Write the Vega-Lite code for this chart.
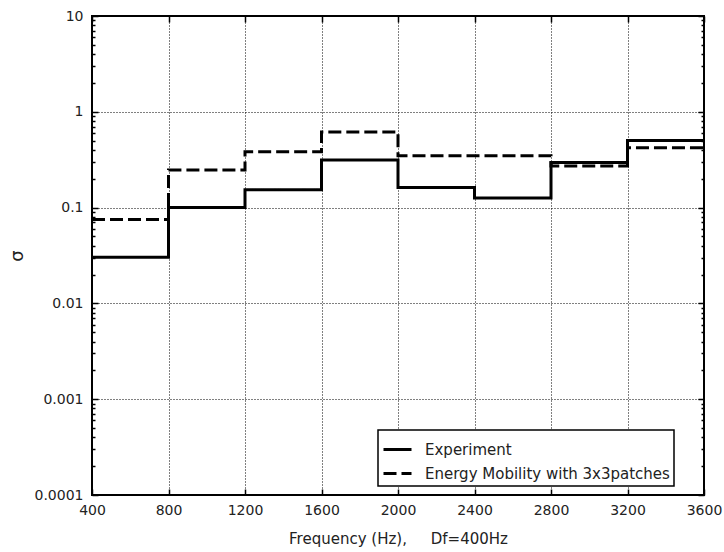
{
  "$schema": "https://vega.github.io/schema/vega-lite/v6.json",
  "width": 612,
  "height": 479,
  "autosize": "none",
  "padding": {"left": 92, "top": 16, "right": 20, "bottom": 57},
  "background": "white",
  "config": {
    "font": "DejaVu Sans",
    "view": {"stroke": "black", "strokeWidth": 2},
    "legend": {"strokeWidth": 1.5},
    "axis": {"domain": false, "tickColor": "black", "labelColor": "#222", "labelFont": "DejaVu Sans", "labelFontSize": 14, "titleFont": "DejaVu Sans", "titleColor": "#222", "titleFontWeight": "normal"}
  },
  "data": {
    "values": [
      {"f": 400, "v": 0.0303, "series": "Experiment"},
      {"f": 800, "v": 0.1, "series": "Experiment"},
      {"f": 1200, "v": 0.154, "series": "Experiment"},
      {"f": 1600, "v": 0.314, "series": "Experiment"},
      {"f": 2000, "v": 0.162, "series": "Experiment"},
      {"f": 2400, "v": 0.126, "series": "Experiment"},
      {"f": 2800, "v": 0.296, "series": "Experiment"},
      {"f": 3200, "v": 0.502, "series": "Experiment"},
      {"f": 3600, "v": 0.502, "series": "Experiment"},
      {"f": 400, "v": 0.075, "series": "Energy Mobility with 3x3patches"},
      {"f": 800, "v": 0.247, "series": "Energy Mobility with 3x3patches"},
      {"f": 1200, "v": 0.383, "series": "Energy Mobility with 3x3patches"},
      {"f": 1600, "v": 0.617, "series": "Energy Mobility with 3x3patches"},
      {"f": 2000, "v": 0.348, "series": "Energy Mobility with 3x3patches"},
      {"f": 2400, "v": 0.348, "series": "Energy Mobility with 3x3patches"},
      {"f": 2800, "v": 0.272, "series": "Energy Mobility with 3x3patches"},
      {"f": 3200, "v": 0.422, "series": "Energy Mobility with 3x3patches"},
      {"f": 3600, "v": 0.422, "series": "Energy Mobility with 3x3patches"}
    ]
  },
  "layer": [
    {
      "mark": {"type": "line", "interpolate": "step-after", "color": "black", "strokeWidth": 3, "clip": true},
      "encoding": {
        "x": {"field": "f", "type": "quantitative", "scale": {"domain": [400, 3600], "nice": false, "zero": false},
          "axis": {"orient": "bottom", "values": [400, 800, 1200, 1600, 2000, 2400, 2800, 3200, 3600], "format": "d", "grid": true, "gridColor": "black", "gridDash": [1, 2], "gridOpacity": 1, "gridWidth": 1, "ticks": false, "labelPadding": 8, "labelFlush": false, "title": "Frequency (Hz),\u00a0\u00a0\u00a0\u00a0\u00a0Df=400Hz", "titleFontSize": 15, "titlePadding": 14}},
        "y": {"field": "v", "type": "quantitative", "scale": {"type": "log", "domain": [0.0001, 10], "nice": false},
          "axis": {"orient": "left", "values": [0.0001, 0.001, 0.01, 0.1, 1, 10], "format": "~g", "grid": true, "gridColor": "black", "gridDash": [1, 2], "gridOpacity": 1, "gridWidth": 1, "ticks": false, "labelPadding": 9, "labelFlush": false, "title": "σ", "titleFontSize": 18, "titlePadding": 8}},
        "strokeDash": {"field": "series", "type": "nominal",
          "scale": {"domain": ["Experiment", "Energy Mobility with 3x3patches"], "range": [[1, 0], [13, 5]]},
          "legend": {"title": null, "orient": "none", "legendX": 286, "legendY": 414, "fillColor": "white", "strokeColor": "black", "padding": 4, "symbolType": "stroke", "symbolSize": 784, "symbolStrokeWidth": 3, "symbolStrokeColor": "black", "labelFont": "DejaVu Sans", "labelFontSize": 15, "labelColor": "#222", "labelOffset": 12, "rowPadding": -7, "labelLimit": 400}}
      }
    },
    {
      "mark": {"type": "line", "opacity": 0},
      "encoding": {
        "x": {"field": "f", "type": "quantitative", "axis": {"orient": "top", "offset": -6, "values": [400, 800, 1200, 1600, 2000, 2400, 2800, 3200, 3600], "labels": false, "grid": false, "tickSize": 6, "tickWidth": 1.5, "title": null}},
        "y": {"field": "v", "type": "quantitative", "axis": {"orient": "right", "offset": -6, "values": [0.0001, 0.001, 0.01, 0.1, 1, 10], "labels": false, "grid": false, "tickSize": 6, "tickWidth": 1.5, "title": null}},
        "detail": {"field": "series"}
      }
    },
    {
      "mark": {"type": "line", "opacity": 0},
      "encoding": {
        "x": {"field": "f", "type": "quantitative", "axis": {"orient": "bottom", "offset": -6, "values": [400, 800, 1200, 1600, 2000, 2400, 2800, 3200, 3600], "labels": false, "grid": false, "tickSize": 6, "tickWidth": 1.5, "title": null}},
        "y": {"field": "v", "type": "quantitative", "axis": {"orient": "left", "offset": -6, "values": [0.0001, 0.001, 0.01, 0.1, 1, 10], "labels": false, "grid": false, "tickSize": 6, "tickWidth": 1.5, "title": null}},
        "detail": {"field": "series"}
      }
    },
    {
      "mark": {"type": "line", "opacity": 0},
      "encoding": {
        "x": {"field": "f", "type": "quantitative", "axis": null},
        "y": {"field": "v", "type": "quantitative", "axis": {"orient": "left", "offset": -3, "values": [0.0002, 0.0003, 0.0004, 0.0005, 0.0006, 0.0007, 0.0008, 0.0009, 0.002, 0.003, 0.004, 0.005, 0.006, 0.007, 0.008, 0.009, 0.02, 0.03, 0.04, 0.05, 0.06, 0.07, 0.08, 0.09, 0.2, 0.3, 0.4, 0.5, 0.6, 0.7, 0.8, 0.9, 2, 3, 4, 5, 6, 7, 8, 9], "labels": false, "grid": false, "tickSize": 3, "tickWidth": 1.5, "title": null}},
        "detail": {"field": "series"}
      }
    },
    {
      "mark": {"type": "line", "opacity": 0},
      "encoding": {
        "x": {"field": "f", "type": "quantitative", "axis": null},
        "y": {"field": "v", "type": "quantitative", "axis": {"orient": "right", "offset": -3, "values": [0.0002, 0.0003, 0.0004, 0.0005, 0.0006, 0.0007, 0.0008, 0.0009, 0.002, 0.003, 0.004, 0.005, 0.006, 0.007, 0.008, 0.009, 0.02, 0.03, 0.04, 0.05, 0.06, 0.07, 0.08, 0.09, 0.2, 0.3, 0.4, 0.5, 0.6, 0.7, 0.8, 0.9, 2, 3, 4, 5, 6, 7, 8, 9], "labels": false, "grid": false, "tickSize": 3, "tickWidth": 1.5, "title": null}},
        "detail": {"field": "series"}
      }
    }
  ],
  "resolve": {"axis": {"x": "independent", "y": "independent"}}
}
